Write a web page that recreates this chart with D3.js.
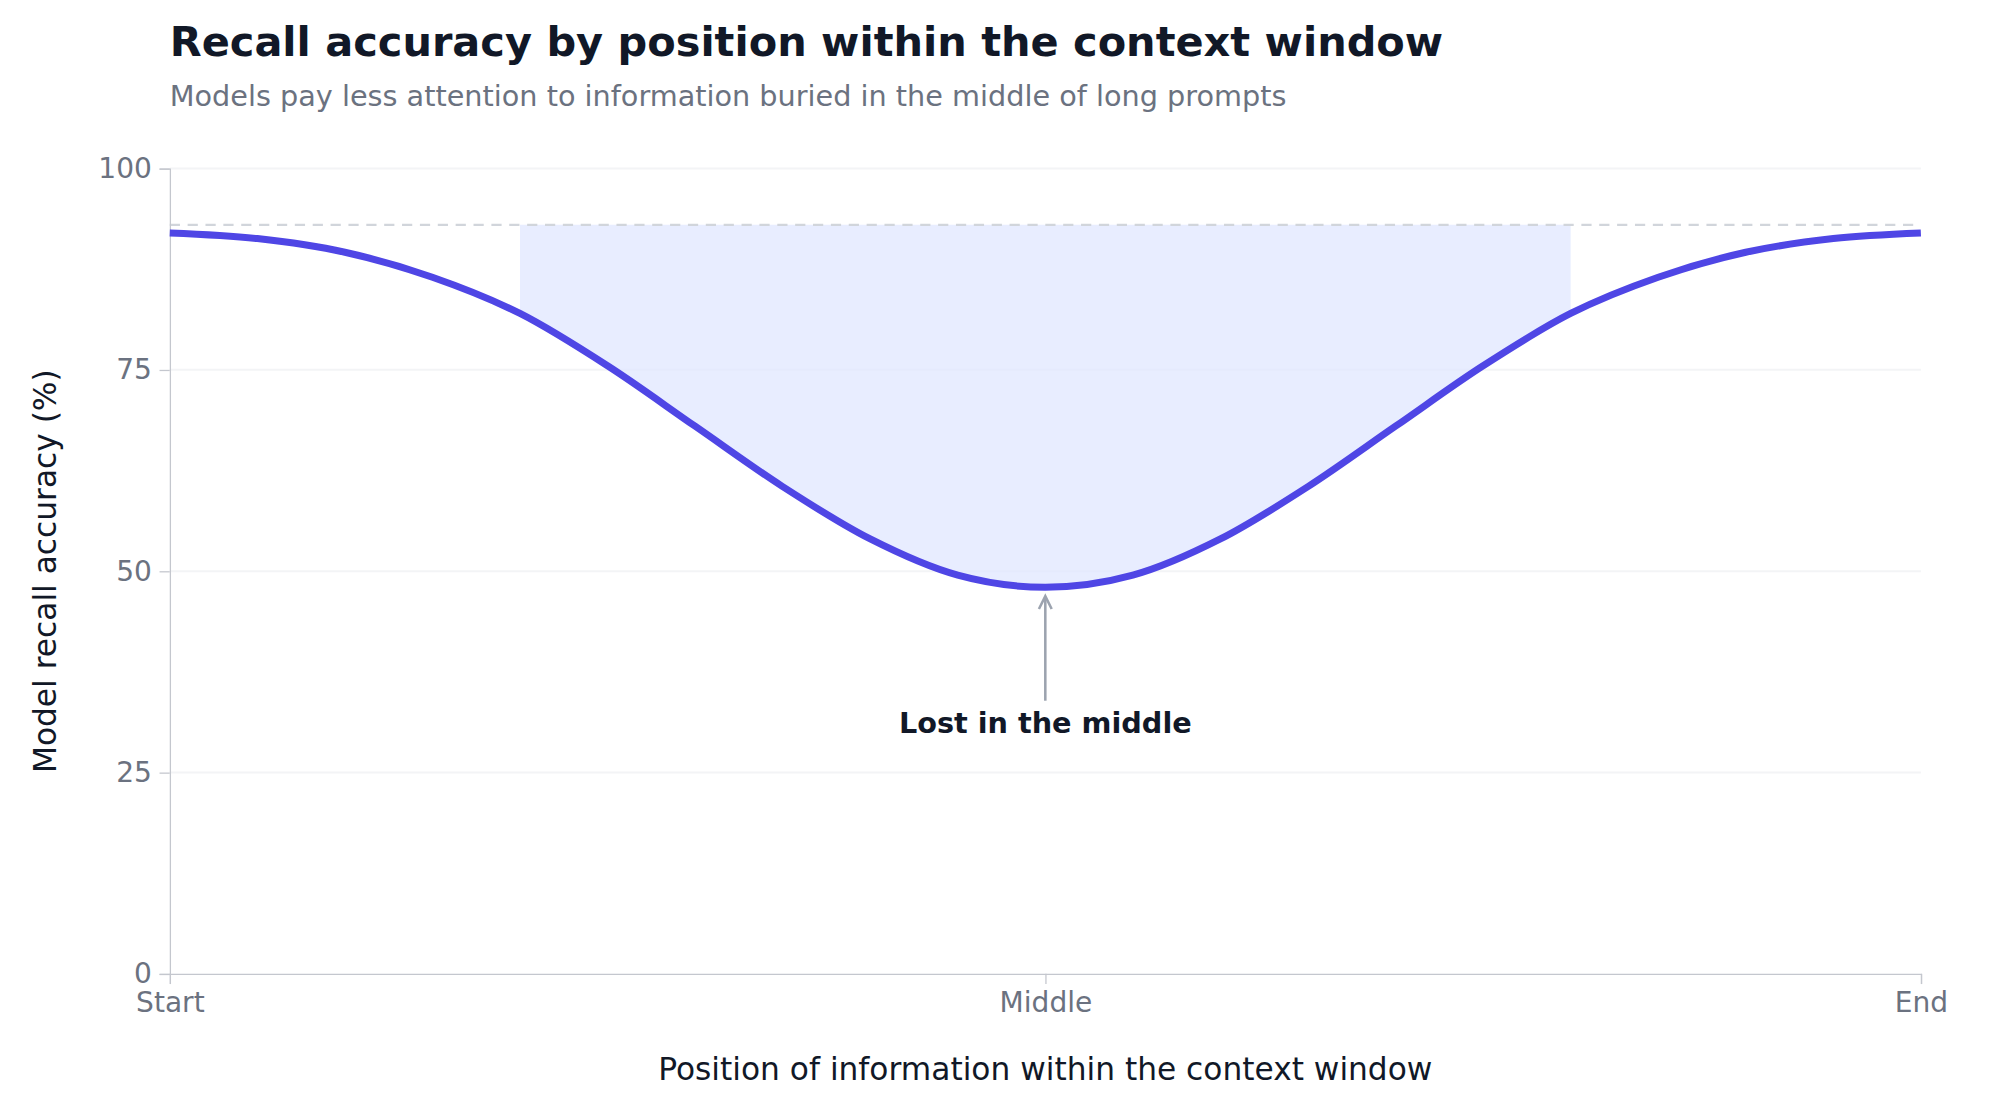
<!DOCTYPE html>
<html><head><meta charset="utf-8">
<script src="https://cdn.jsdelivr.net/npm/d3@7"></script>
<style>body{margin:0;background:#fff}text{font-family:"DejaVu Sans",sans-serif}</style>
</head><body>
<svg id="chart" width="2000" height="1120" viewBox="0 0 1567 877.5"></svg>
<script>
const positions = [0,0.05,0.1,0.15,0.2,0.25,0.3,0.35,0.4,0.45,0.5,0.55,0.6,0.65,0.7,0.75,0.8,0.85,0.9,0.95,1];
const recall = [92,91.3,89.6,86.5,82,75.5,68,60.5,54,49.5,48,49.5,54,60.5,68,75.5,82,86.5,89.6,91.3,92];
const xTicks = [0,0.5,1];
const xTickLabels = ["Start","Middle","End"];
const yTicks = [0,25,50,75,100];
const baselineLevel = 93;
const bandRange = [0.2,0.8];

const svg = d3.select("#chart");
const m = {left:133, right:1505, top:132, bottom:763};
const x = d3.scaleLinear().domain([0,1]).range([m.left,m.right]);
const y = d3.scaleLinear().domain([0,100]).range([m.bottom,m.top]);
const data = positions.map((p,i)=>({p,v:recall[i]}));

svg.append("text").attr("x",133).attr("y",44).attr("font-size",32.5).attr("font-weight","bold").attr("fill","#111827")
  .text("Recall accuracy by position within the context window");
svg.append("text").attr("x",133).attr("y",83).attr("font-size",22.5).attr("fill","#6b7280")
  .text("Models pay less attention to information buried in the middle of long prompts");

// grid
svg.append("g").selectAll("line").data(yTicks.filter(d=>d>0)).join("line")
  .attr("x1",m.left).attr("x2",m.right).attr("y1",d=>y(d)).attr("y2",d=>y(d))
  .attr("stroke","#f3f4f6").attr("stroke-width",1.5);

// shaded band
const band = data.filter(d=>d.p>=bandRange[0]&&d.p<=bandRange[1]);
svg.append("path").datum(band)
  .attr("d",d3.area().x(d=>x(d.p)).y0(y(baselineLevel)).y1(d=>y(d.v)).curve(d3.curveMonotoneX))
  .attr("fill","#e0e7ff").attr("opacity",0.75);

svg.append("line").attr("x1",m.left).attr("x2",m.right).attr("y1",y(baselineLevel)).attr("y2",y(baselineLevel))
  .attr("stroke","#d1d5db").attr("stroke-width",1.8).attr("stroke-dasharray","8,6");

// axes
const yAxis = svg.append("g").attr("transform",`translate(${m.left},0)`)
  .call(d3.axisLeft(y).tickValues(yTicks).tickSize(8).tickPadding(6));
const xAxis = svg.append("g").attr("transform",`translate(0,${m.bottom})`)
  .call(d3.axisBottom(x).tickValues(xTicks).tickFormat((d,i)=>xTickLabels[i]).tickSize(8).tickPadding(6));
[xAxis,yAxis].forEach(a=>{
  a.selectAll("path,line").attr("stroke","#c4c7ce");
  a.selectAll("text").attr("font-size",22).attr("fill","#6b7280");
});

svg.append("path").datum(data)
  .attr("d",d3.line().x(d=>x(d.p)).y(d=>y(d.v)).curve(d3.curveMonotoneX))
  .attr("fill","none").attr("stroke","#4f46e5").attr("stroke-width",5.5);

// annotation
svg.append("line").attr("x1",x(0.5)).attr("x2",x(0.5)).attr("y1",549).attr("y2",y(48)+8)
  .attr("stroke","#9ca3af").attr("stroke-width",2);
svg.append("path").attr("d",`M${x(0.5)-5},${y(48)+17}L${x(0.5)},${y(48)+7}L${x(0.5)+5},${y(48)+17}`)
  .attr("fill","none").attr("stroke","#9ca3af").attr("stroke-width",2);
svg.append("text").attr("x",x(0.5)).attr("y",574).attr("text-anchor","middle").attr("font-size",22.5)
  .attr("font-weight","bold").attr("fill","#111827").text("Lost in the middle");

svg.append("text").attr("x",x(0.5)).attr("y",846).attr("text-anchor","middle").attr("font-size",24.5)
  .attr("fill","#111827").text("Position of information within the context window");
svg.append("text").attr("transform",`translate(44,${(m.top+m.bottom)/2}) rotate(-90)`).attr("text-anchor","middle")
  .attr("font-size",24.5).attr("fill","#111827").text("Model recall accuracy (%)");
</script>
</body></html>
